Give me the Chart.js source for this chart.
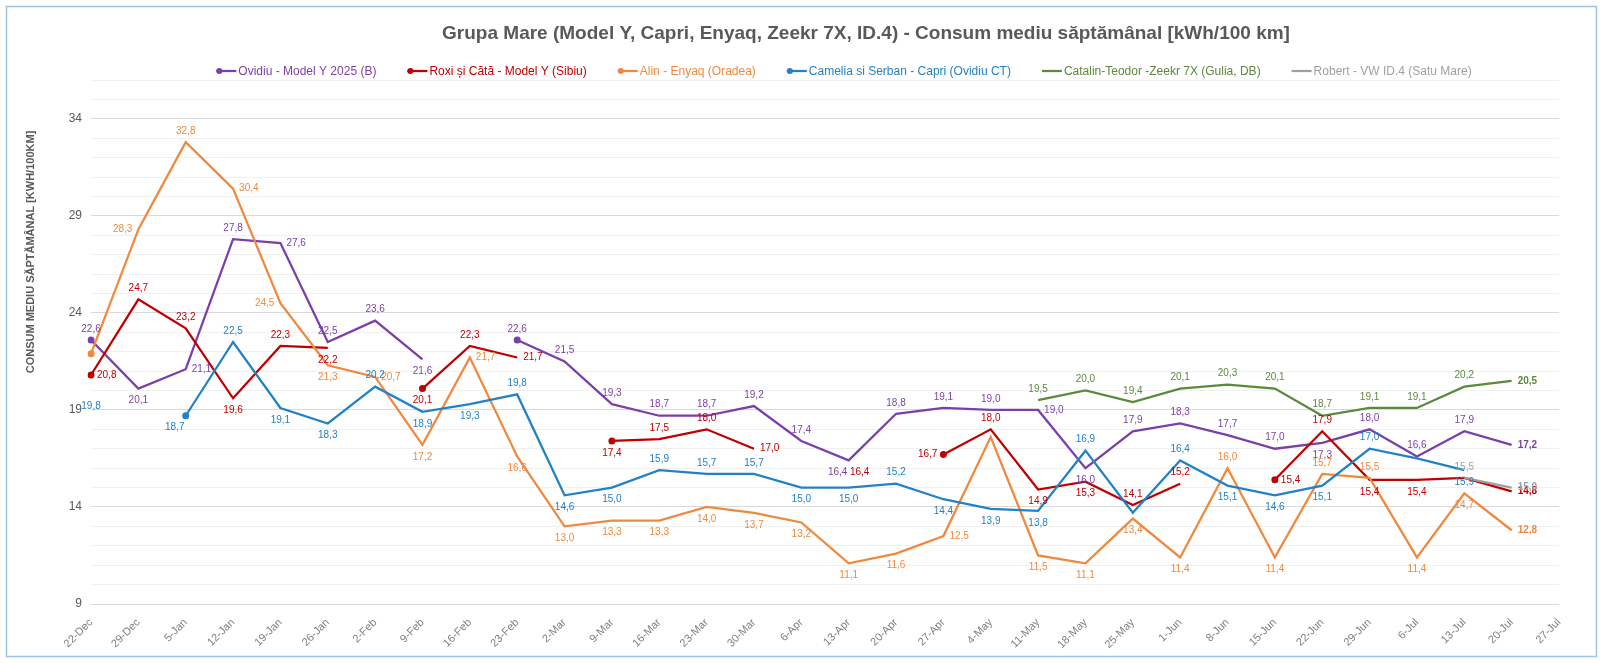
<!DOCTYPE html>
<html>
<head>
<meta charset="utf-8">
<title>Grupa Mare - Consum mediu săptămânal</title>
<script src="https://cdn.jsdelivr.net/npm/chart.js@4.4.1/dist/chart.umd.min.js"></script>
<style>
  html, body { margin: 0; padding: 0; background: #fff; }
  #chart { display: block; }
</style>
</head>
<body>
<canvas id="chart" width="1600" height="663"></canvas>
<script>
const weeks = ['22-Dec', '29-Dec', '5-Jan', '12-Jan', '19-Jan', '26-Jan', '2-Feb', '9-Feb', '16-Feb', '23-Feb',
  '2-Mar', '9-Mar', '16-Mar', '23-Mar', '30-Mar', '6-Apr', '13-Apr', '20-Apr', '27-Apr', '4-May',
  '11-May', '18-May', '25-May', '1-Jun', '8-Jun', '15-Jun', '22-Jun', '29-Jun', '6-Jul', '13-Jul',
  '20-Jul', '27-Jul'];

const ovidiu = [22.6, 20.1, 21.1, 27.8, 27.6, 22.5, 23.6, 21.6, null, 22.6, 21.5, 19.3, 18.7, 18.7, 19.2, 17.4,
  16.4, 18.8, 19.1, 19.0, 19.0, 16.0, 17.9, 18.3, 17.7, 17.0, 17.3, 18.0, 16.6, 17.9, 17.2, null];
const roxi = [20.8, 24.7, 23.2, 19.6, 22.3, 22.2, null, 20.1, 22.3, 21.7, null, 17.4, 17.5, 18.0, 17.0, null,
  16.4, null, 16.7, 18.0, 14.9, 15.3, 14.1, 15.2, null, 15.4, 17.9, 15.4, 15.4, 15.5, 14.8, null];
const alin = [21.9, 28.3, 32.8, 30.4, 24.5, 21.3, 20.7, 17.2, 21.7, 16.6, 13.0, 13.3, 13.3, 14.0, 13.7, 13.2,
  11.1, 11.6, 12.5, 17.6, 11.5, 11.1, 13.4, 11.4, 16.0, 11.4, 15.7, 15.5, 11.4, 14.7, 12.8, null];
const camelia = [19.8, null, 18.7, 22.5, 19.1, 18.3, 20.2, 18.9, 19.3, 19.8, 14.6, 15.0, 15.9, 15.7, 15.7, 15.0,
  15.0, 15.2, 14.4, 13.9, 13.8, 16.9, 13.7, 16.4, 15.1, 14.6, 15.1, 17.0, 16.5, 15.9, null, null];
const catalin = [null, null, null, null, null, null, null, null, null, null, null, null, null, null, null, null,
  null, null, null, null, 19.5, 20.0, 19.4, 20.1, 20.3, 20.1, 18.7, 19.1, 19.1, 20.2, 20.5, null];
const robert = [null, null, null, null, null, null, null, null, null, null, null, null, null, null, null, null,
  null, null, null, null, null, null, null, null, null, null, null, null, null, 15.5, 15.0, null];

const yTicks = [9, 14, 19, 24, 29, 34];

// where each value label sits: a above, b below, l left, r right, L/R below-left/right, x hidden
const labelSpots = {
  ovidiu: 'abraraab-aaaaaaaLaaarbaaaabaaar-',
  roxi: 'raabab-bar-baar-R-labbaa-rabbxr-',
  alin: 'xlarlbrbrbbbbbbbbbrxbbbbabaabbr-',
  camelia: 'b-Labbabbabbaaabbabbbaxabbbaxb--',
  catalin: '--------------------aaaaaaaaaar-',
  robert: '-----------------------------ar-',
};

const FONT = "'Liberation Sans Narrow', 'Liberation Sans', Arial, sans-serif";
const GREY_TEXT = '#595959';

const series = [
  { key: 'ovidiu', label: 'Ovidiu - Model Y 2025 (B)', data: ovidiu, color: '#7B3FAA', dot: true },
  { key: 'roxi', label: 'Roxi și Cătă - Model Y (Sibiu)', data: roxi, color: '#C00000', dot: true },
  { key: 'alin', label: 'Alin - Enyaq (Oradea)', data: alin, color: '#F0893E', dot: true },
  { key: 'camelia', label: 'Camelia si Serban - Capri (Ovidiu CT)', data: camelia, color: '#2381C6', dot: true },
  { key: 'catalin', label: 'Catalin-Teodor -Zeekr 7X (Gulia, DB)', data: catalin, color: '#5B8A3C', dot: false },
  { key: 'robert', label: 'Robert - VW ID.4 (Satu Mare)', data: robert, color: '#A0A0A0', dot: false },
];

// marker only on the first point of a drawn segment
function startsSegment(data, i) {
  return data[i] != null && (i === 0 || data[i - 1] == null) && data[i + 1] != null;
}

const fmt = (v) => v.toFixed(1).replace('.', ',');

const frameAndTexts = {
  id: 'frameAndTexts',
  beforeDraw(chart) {
    const ctx = chart.ctx;
    ctx.save();
    ctx.fillStyle = '#fff';
    ctx.fillRect(0, 0, chart.width, chart.height);
    ctx.strokeStyle = '#9DC3E6';
    ctx.lineWidth = 1.5;
    ctx.strokeRect(6.5, 6.5, 1590, 650);
    ctx.restore();
  },
  afterDraw(chart) {
    const ctx = chart.ctx;
    ctx.save();

    // title
    ctx.fillStyle = GREY_TEXT;
    ctx.font = `bold 19px ${FONT}`;
    ctx.textAlign = 'center';
    ctx.textBaseline = 'middle';
    ctx.fillText('Grupa Mare (Model Y, Capri, Enyaq, Zeekr 7X, ID.4) - Consum mediu săptămânal [kWh/100 km]', 866, 34);

    // legend
    ctx.font = `12px ${FONT}`;
    const gap = 31;
    const mark = 20;
    const widths = series.map((s) => ctx.measureText(s.label).width + mark + 2);
    const total = widths.reduce((a, b) => a + b, 0) + gap * (series.length - 1);
    let x = 844 - total / 2;
    const ly = 71;
    series.forEach((s, i) => {
      ctx.strokeStyle = s.color;
      ctx.lineWidth = 2.25;
      ctx.beginPath();
      ctx.moveTo(x, ly);
      ctx.lineTo(x + mark, ly);
      ctx.stroke();
      if (s.dot) {
        ctx.fillStyle = s.color;
        ctx.beginPath();
        ctx.arc(x + 3, ly, 3, 0, Math.PI * 2);
        ctx.fill();
      }
      ctx.fillStyle = s.color;
      ctx.textAlign = 'left';
      ctx.fillText(s.label, x + mark + 2, ly + 1);
      x += widths[i] + gap;
    });

    // y axis title
    ctx.translate(31, 252);
    ctx.rotate(-Math.PI / 2);
    ctx.font = `bold 11px ${FONT}`;
    ctx.fillStyle = GREY_TEXT;
    ctx.textAlign = 'center';
    ctx.fillText('CONSUM MEDIU SĂPTĂMÂNAL [KWH/100KM]', 0, 0);
    ctx.restore();
  },
};

const valueLabels = {
  id: 'valueLabels',
  afterDatasetsDraw(chart) {
    const ctx = chart.ctx;
    ctx.save();
    ctx.textBaseline = 'middle';
    chart.data.datasets.forEach((ds, di) => {
      const meta = chart.getDatasetMeta(di);
      const spots = labelSpots[series[di].key];
      meta.data.forEach((pt, i) => {
        const v = ds.data[i];
        const spot = spots[i];
        if (v == null || spot === 'x' || spot === '-') return;
        const last = i === 30;
        ctx.font = `${last ? 'bold ' : ''}10px ${FONT}`;
        ctx.fillStyle = ds.borderColor;
        let tx = pt.x;
        let ty = pt.y;
        ctx.textAlign = 'center';
        if (spot === 'a') ty -= 11;
        else if (spot === 'b') ty += 12;
        else if (spot === 'r') { tx += 6; ctx.textAlign = 'left'; }
        else if (spot === 'l') { tx -= 6; ctx.textAlign = 'right'; }
        else if (spot === 'L') { tx -= 11; ty += 12; }
        else if (spot === 'R') { tx += 11; ty += 12; }
        ctx.fillText(fmt(v), tx, ty);
      });
    });
    ctx.restore();
  },
};

new Chart(document.getElementById('chart'), {
  type: 'line',
  data: {
    labels: weeks,
    datasets: series.map((s, i) => ({
      label: s.label,
      data: s.data,
      borderColor: s.color,
      backgroundColor: s.color,
      borderWidth: 2.25,
      tension: 0,
      order: -i,
      pointRadius: (c) => (s.dot && startsSegment(s.data, c.dataIndex) ? 3.5 : 0),
      pointHoverRadius: 0,
      pointBorderWidth: 0,
      pointBackgroundColor: s.color,
    })),
  },
  options: {
    responsive: false,
    animation: false,
    layout: { padding: { top: 80, left: 0, right: 41, bottom: 0 } },
    plugins: {
      legend: { display: false },
      title: { display: false },
      tooltip: { enabled: false },
    },
    scales: {
      x: {
        offset: false,
        grid: { display: false },
        border: { display: false },
        ticks: {
          autoSkip: false,
          maxRotation: 45,
          minRotation: 45,
          padding: 4,
          color: '#7F7F7F',
          font: { family: FONT, size: 11 },
        },
        afterFit: (s) => { s.height = 59; },
      },
      y: {
        min: 9,
        max: 36,
        border: { display: false },
        grid: {
          drawTicks: false,
          color: (c) => (yTicks.includes(c.tick.value) ? '#D9D9D9' : '#F0F0F0'),
          lineWidth: 1,
        },
        ticks: {
          stepSize: 1,
          autoSkip: false,
          padding: 9,
          color: GREY_TEXT,
          font: { family: FONT, size: 12 },
          callback: (v) => (yTicks.includes(v) ? v : ''),
        },
        afterFit: (s) => { s.width = 91; },
      },
    },
  },
  plugins: [frameAndTexts, valueLabels],
});
</script>
</body>
</html>
